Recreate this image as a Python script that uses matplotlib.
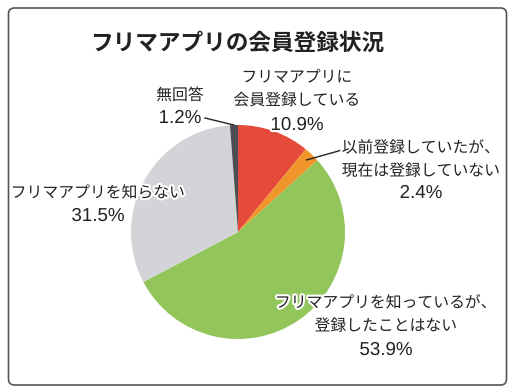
import numpy as np
import matplotlib
matplotlib.use("Agg")
import matplotlib.pyplot as plt
from matplotlib.patches import FancyBboxPatch
import matplotlib.patheffects as pe

plt.rcParams['font.family'] = ['Noto Sans CJK JP', 'DejaVu Sans']

title = "フリマアプリの会員登録状況"
labels = ["フリマアプリに\n会員登録している",
          "以前登録していたが、\n現在は登録していない",
          "フリマアプリを知っているが、\n登録したことはない",
          "フリマアプリを知らない",
          "無回答"]
values = [10.9, 2.4, 53.9, 31.5, 1.2]
colors = ['#e64a3a', '#f0952a', '#93c65a', '#d3d4d8', '#4b4d53']

W, H = 516, 392
fig = plt.figure(figsize=(W / 100, H / 100), dpi=100)
ax = fig.add_axes([0, 0, 1, 1])

# rounded frame
frame = FancyBboxPatch((8.5, 7), 498, 377, boxstyle="round,pad=0,rounding_size=6",
                       fc='white', ec='#555555', lw=1.2)
ax.add_patch(frame)

cx, cy, r = 238, 160, 107
wedges, _ = ax.pie(values, colors=colors, startangle=90, counterclock=False,
                   center=(cx, cy), radius=r, frame=True,
                   wedgeprops=dict(linewidth=0))
ax.set_xlim(0, W)
ax.set_ylim(0, H)
ax.axis('off')

ax.text(237, H - 43, title, ha='center', va='center', fontsize=16.3,
        fontweight='bold', color='#222222')

tc = '#222222'
halo = [pe.withStroke(linewidth=3, foreground='white')]
# (x, name center y, percent baseline y) in pixels from top
spots = [(297, 89, 130), (421, 159.5, 198), (386, 314.5, 355),
         (98, 193, 221), (180, 95.5, 123)]

for name, v, (x, yn, yp) in zip(labels, values, spots):
    ax.text(x, H - yn, name, ha='center', va='center', fontsize=11.4,
            color=tc, linespacing=1.47, path_effects=halo)
    ax.text(x, H - yp, f"{v}%", ha='center', va='baseline', fontsize=13.5,
            family=['Liberation Sans', 'DejaVu Sans'], color=tc,
            path_effects=halo)

# leader lines to small slices
def edge_point(w, frac):
    a = np.deg2rad((w.theta1 + w.theta2) / 2)
    return cx + frac * r * np.cos(a), cy + frac * r * np.sin(a)

ex, ey = edge_point(wedges[4], 1.0)
ax.plot([205, ex], [H - 118, ey], color='#222222', lw=1)
ex, ey = edge_point(wedges[1], 0.93)
ax.plot([342, ex], [H - 150, ey], color='#222222', lw=1)

fig.savefig("out.png", dpi=100)
